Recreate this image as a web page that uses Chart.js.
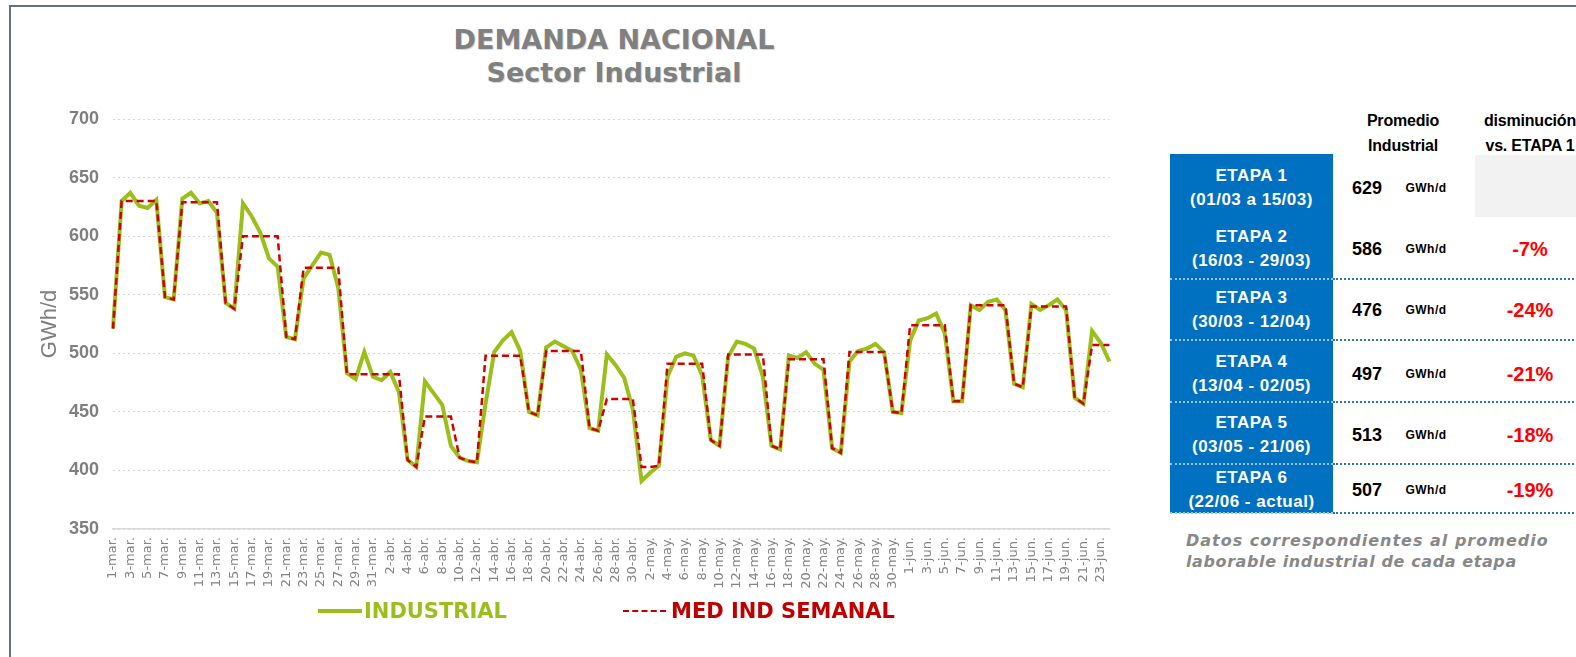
<!DOCTYPE html>
<html>
<head>
<meta charset="utf-8">
<script src="https://cdn.jsdelivr.net/npm/chart.js@4.4.0/dist/chart.umd.min.js"></script>
<style>
  html, body { margin: 0; padding: 0; background: #fff; }
  body { width: 1576px; height: 657px; position: relative; overflow: hidden; font-family: 'Liberation Sans', Arial, sans-serif; }
  .frame { position: absolute; left: 9px; top: 5px; width: 1700px; height: 800px; border-left: 2px solid #66717d; border-top: 2px solid #66717d; }
  #chartBox { position: absolute; left: 0; top: 0; width: 1133px; height: 657px; }
  .title { position: absolute; left: 364px; width: 500px; text-align: center; font: bold 27px 'DejaVu Sans', sans-serif; color: #808080; text-shadow: 1px 1px 1px #d4d4d4; }
  .leg { position: absolute; font: bold 21px 'DejaVu Sans', sans-serif; line-height: 24px; }
  .abs { position: absolute; }
  .blue { background: #0070c0; }
  .etapa { position: absolute; left: 1170px; width: 163px; text-align: center; color: #fff; font: bold 17px 'Liberation Sans', sans-serif; letter-spacing: 0.5px; line-height: 24.5px; }
  .head { position: absolute; text-align: center; color: #000; font: bold 16px 'Liberation Sans', sans-serif; line-height: 25px; letter-spacing: -0.2px; }
  .val { position: absolute; left: 1340px; width: 54px; text-align: center; font: bold 18px 'Liberation Sans', sans-serif; line-height: 20px; color: #000; }
  .unit { position: absolute; left: 1400px; width: 52px; text-align: center; font: bold 12px 'Liberation Sans', sans-serif; line-height: 16px; color: #000; letter-spacing: 0.5px; }
  .pct { position: absolute; left: 1480px; width: 100px; text-align: center; font: bold 20px 'Liberation Sans', sans-serif; line-height: 22px; color: #ff0000; }
  .sep { position: absolute; height: 0; border-top: 2px dotted #2e75b6; }
  .note { position: absolute; left: 1186px; font: italic bold 16px 'DejaVu Sans', sans-serif; color: #888; line-height: 21px; white-space: nowrap; }
</style>
</head>
<body>
<div class="frame"></div>
<div class="title" style="top:24px;">DEMANDA NACIONAL</div>
<div class="title" style="top:57px;">Sector Industrial</div>
<div id="chartBox"><canvas id="demandChart"></canvas></div>

<div class="abs" style="left:318px;top:609px;width:44px;height:4px;background:#9bbf1a;"></div>
<div class="leg" style="left:364px;top:599px;color:#9bbf1a;">INDUSTRIAL</div>
<div class="abs" style="left:623px;top:610px;width:43px;height:0;border-top:2px dashed #c00000;"></div>
<div class="leg" style="left:671px;top:599px;color:#c00000;">MED IND SEMANAL</div>

<div id="table"></div>

<script>
const days = [
  '1-mar.', '2-mar.', '3-mar.', '4-mar.', '5-mar.', '6-mar.', '7-mar.', '8-mar.', '9-mar.', '10-mar.',
  '11-mar.', '12-mar.', '13-mar.', '14-mar.', '15-mar.', '16-mar.', '17-mar.', '18-mar.', '19-mar.', '20-mar.',
  '21-mar.', '22-mar.', '23-mar.', '24-mar.', '25-mar.', '26-mar.', '27-mar.', '28-mar.', '29-mar.', '30-mar.', '31-mar.',
  '1-abr.', '2-abr.', '3-abr.', '4-abr.', '5-abr.', '6-abr.', '7-abr.', '8-abr.', '9-abr.', '10-abr.',
  '11-abr.', '12-abr.', '13-abr.', '14-abr.', '15-abr.', '16-abr.', '17-abr.', '18-abr.', '19-abr.', '20-abr.',
  '21-abr.', '22-abr.', '23-abr.', '24-abr.', '25-abr.', '26-abr.', '27-abr.', '28-abr.', '29-abr.', '30-abr.',
  '1-may.', '2-may.', '3-may.', '4-may.', '5-may.', '6-may.', '7-may.', '8-may.', '9-may.', '10-may.',
  '11-may.', '12-may.', '13-may.', '14-may.', '15-may.', '16-may.', '17-may.', '18-may.', '19-may.', '20-may.',
  '21-may.', '22-may.', '23-may.', '24-may.', '25-may.', '26-may.', '27-may.', '28-may.', '29-may.', '30-may.', '31-may.',
  '1-jun.', '2-jun.', '3-jun.', '4-jun.', '5-jun.', '6-jun.', '7-jun.', '8-jun.', '9-jun.', '10-jun.',
  '11-jun.', '12-jun.', '13-jun.', '14-jun.', '15-jun.', '16-jun.', '17-jun.', '18-jun.', '19-jun.', '20-jun.',
  '21-jun.', '22-jun.', '23-jun.', '24-jun.',
];

// GWh/d, daily
const industrial = [
  521, 630, 637, 626, 624, 631, 548, 546, 632, 637,
  628, 630, 620, 543, 538, 628, 617, 603, 581, 574,
  514, 512, 564, 575, 586, 584, 556, 483, 478, 501, 480,
  477, 484, 467, 409, 403, 476, 466, 456, 421, 411,
  408, 407, 457, 501, 511, 518, 502, 450, 447, 505,
  510, 506, 502, 486, 436, 434, 499, 490, 479, 452,
  391, 398, 404, 480, 497, 500, 498, 481, 426, 421,
  497, 510, 508, 504, 480, 421, 418, 498, 496, 501,
  491, 486, 419, 415, 493, 502, 504, 508, 501, 450, 449,
  511, 528, 530, 534, 517, 459, 459, 541, 537, 544,
  546, 537, 474, 471, 542, 537, 541, 546, 537, 462,
  457, 519, 509, 493,
];

const medSemanal = [
  521, 630, 630, 630, 630, 630, 548, 546, 629, 629,
  629, 629, 629, 543, 538, 600, 600, 600, 600, 600,
  514, 512, 573, 573, 573, 573, 573, 482, 482, 482, 482,
  482, 482, 482, 409, 403, 446, 446, 446, 446, 411,
  408, 407, 498, 498, 498, 498, 498, 450, 447, 502,
  502, 502, 502, 502, 436, 434, 461, 461, 461, 461,
  403, 403, 404, 491, 491, 491, 491, 491, 426, 421,
  499, 499, 499, 499, 499, 421, 418, 495, 495, 495,
  495, 495, 419, 415, 501, 501, 501, 501, 501, 450, 449,
  524, 524, 524, 524, 524, 459, 459, 541, 541, 541,
  541, 541, 474, 471, 540, 540, 540, 540, 540, 462,
  457, 507, 507, 507,
];

const yMin = 350;
const yMax = 700;
const yStep = 50;

const etapaNames = ['ETAPA 1', 'ETAPA 2', 'ETAPA 3', 'ETAPA 4', 'ETAPA 5', 'ETAPA 6'];
const etapaRanges = ['(01/03 a 15/03)', '(16/03 - 29/03)', '(30/03 - 12/04)', '(13/04 - 02/05)', '(03/05 - 21/06)', '(22/06 - actual)'];
const promedio = [629, 586, 476, 497, 513, 507];
const disminucion = ['', '-7%', '-24%', '-21%', '-18%', '-19%'];

// table layout (pixel rows)
const rowMid = [188, 249, 310, 374, 435, 490];
const sepY = [279, 340, 402, 464, 513];

function buildTable() {
  const t = document.getElementById('table');
  let html = '';
  html += '<div class="abs blue" style="left:1170px;top:154px;width:163px;height:359px;"></div>';
  html += '<div class="abs" style="left:1475px;top:155px;width:110px;height:62px;background:#f2f2f2;"></div>';
  html += '<div class="head" style="left:1353px;top:108px;width:100px;">Promedio<br>Industrial</div>';
  html += '<div class="head" style="left:1470px;top:108px;width:120px;">disminución<br>vs. ETAPA 1</div>';
  sepY.forEach((y) => {
    html += `<div class="sep" style="left:1170px;top:${y - 1}px;width:163px;border-top-color:#9cc4ea;"></div>`;
    html += `<div class="sep" style="left:1333px;top:${y - 1}px;width:260px;"></div>`;
  });
  etapaNames.forEach((name, i) => {
    const mid = rowMid[i];
    html += `<div class="etapa" style="top:${mid - 24.5}px;">${name}<br>${etapaRanges[i]}</div>`;
    html += `<div class="val" style="top:${mid - 10}px;">${promedio[i]}</div>`;
    html += `<div class="unit" style="top:${mid - 8}px;">GWh/d</div>`;
    if (disminucion[i]) {
      html += `<div class="pct" style="top:${mid - 11}px;">${disminucion[i]}</div>`;
    }
  });
  html += '<div class="note" style="top:530px;letter-spacing:1px;">Datos correspondientes al promedio</div>';
  html += '<div class="note" style="top:551px;letter-spacing:0.6px;">laborable industrial de cada etapa</div>';
  t.innerHTML = html;
}

function demandChart() {
  const ctx = document.getElementById('demandChart');

  if (ctx) {
    new Chart(ctx, {
      type: 'line',
      data: {
        labels: days,
        datasets: [
          {
            label: 'INDUSTRIAL',
            data: industrial,
            order: 2,
            borderColor: '#9bbf1a',
            borderWidth: 4,
            pointRadius: 0,
            tension: 0,
            fill: false,
          },
          {
            label: 'MED IND SEMANAL',
            data: medSemanal,
            order: 1,
            borderColor: '#d00000',
            borderWidth: 2.5,
            borderDash: [7, 4],
            pointRadius: 0,
            tension: 0,
            fill: false,
          },
        ],
      },
      options: {
        responsive: true,
        maintainAspectRatio: false,
        animation: false,
        layout: {
          padding: { top: 119, right: 7, bottom: 62, left: 0 },
        },
        scales: {
          x: {
            grid: { display: false, drawTicks: false },
            border: { color: '#d9d9d9', width: 1.5 },
            ticks: {
              autoSkip: false,
              minRotation: 90,
              maxRotation: 90,
              padding: 8,
              color: '#858585',
              font: { family: "'DejaVu Sans', sans-serif", size: 13 },
              callback: (value, index) => (index % 2 === 0 ? days[index] : ''),
            },
            afterFit: (scale) => {
              scale.height = 66;
            },
          },
          y: {
            min: yMin,
            max: yMax,
            ticks: {
              stepSize: yStep,
              padding: 14,
              color: '#7f7f7f',
              font: { family: "'Liberation Sans', sans-serif", size: 18, weight: 'bold' },
            },
            grid: { color: '#d6d6d6', lineWidth: 1, drawTicks: false },
            border: { display: false, dash: [2, 3] },
            title: {
              display: true,
              text: 'GWh/d',
              color: '#7f7f7f',
              font: { family: "'Liberation Sans', sans-serif", size: 22 },
              padding: { top: 37, bottom: 0 },
            },
            afterFit: (scale) => {
              scale.width = 113;
            },
          },
        },
        plugins: {
          legend: { display: false },
          tooltip: { enabled: false },
        },
      },
    });
  }
}

buildTable();
demandChart();
</script>
</body>
</html>
